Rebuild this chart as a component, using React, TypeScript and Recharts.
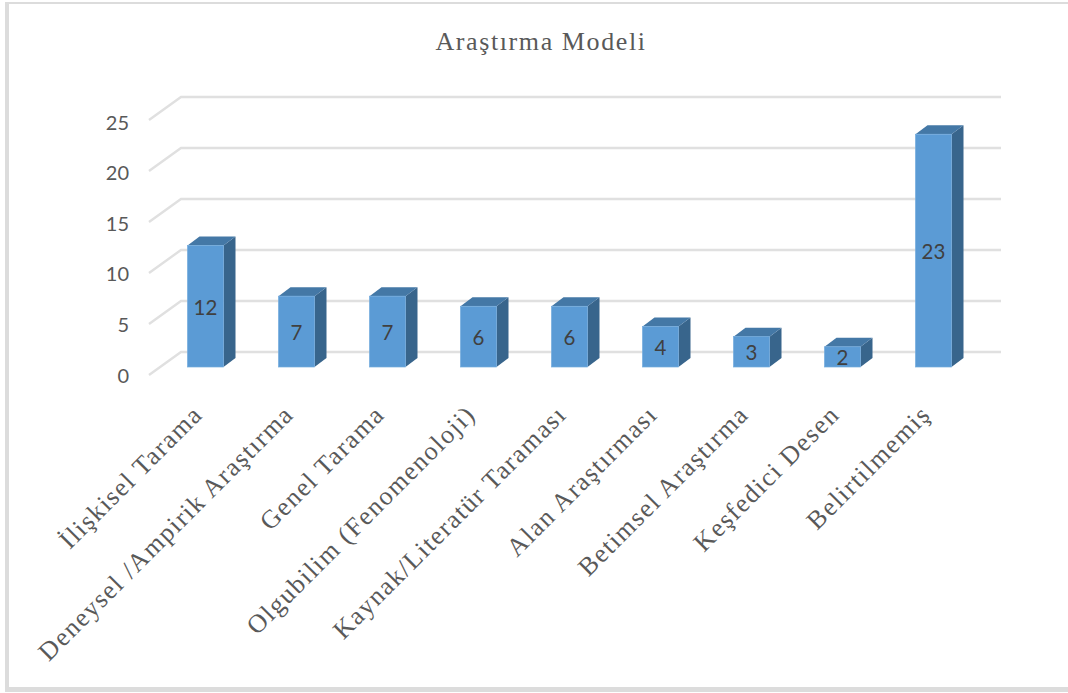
import { BarChart, Bar, XAxis, YAxis, CartesianGrid, LabelList } from "recharts";

const categories = [
  "İlişkisel Tarama",
  "Deneysel /Ampirik Araştırma",
  "Genel Tarama",
  "Olgubilim (Fenomenoloji)",
  "Kaynak/Literatür Taraması",
  "Alan Araştırması",
  "Betimsel Araştırma",
  "Keşfedici Desen",
  "Belirtilmemiş",
];
const counts = [12, 7, 7, 6, 6, 4, 3, 2, 23];
const yTicks = [0, 5, 10, 15, 20, 25];
const title = "Araştırma Modeli";

const data = categories.map((name, i) => ({ name, count: counts[i] }));

const SERIF = "'Liberation Serif', serif";
const BASE_Y = 367;

// bars are extruded up and to the right, like the old office 3d column look
function Bar3D({ x, y, width, height }: any) {
  const dx = 12;
  const dy = 9;
  return (
    <g>
      <polygon points={`${x + width},${y} ${x + width + dx},${y - dy} ${x + width + dx},${y + height - dy} ${x + width},${y + height}`} fill="#38658C" />
      <polygon points={`${x},${y} ${x + dx},${y - dy} ${x + width + dx},${y - dy} ${x + width},${y}`} fill="#4478A6" />
      <rect x={x} y={y} width={width} height={height} fill="#5B9BD5" stroke="#74ABDD" strokeWidth={0.7} />
    </g>
  );
}

// grid line runs along the back wall, then slants down to the front left
function GridLine({ y1 }: any) {
  const rise = (BASE_Y - y1) * 1.008; // wall is a touch taller than the bars
  const back = BASE_Y - 15 - rise;
  const front = BASE_Y + 8 - rise;
  return <polyline points={`149,${front} 181,${back} 1001,${back}`} fill="none" stroke="#E0E0E0" strokeWidth={2.4} />;
}

function ValueTick({ y, payload }: any) {
  return (
    <text x={129} y={y + 15.5} textAnchor="end" fontFamily="Lato" fontSize={20} fill="#595959">
      {payload.value}
    </text>
  );
}

function CategoryTick({ x, y, payload }: any) {
  return (
    <text
      transform={`translate(${x - 1} ${y + 41}) rotate(-45)`}
      textAnchor="end"
      fontFamily={SERIF}
      fontSize={26}
      letterSpacing={1.5}
      fill="#595959"
    >
      {payload.value}
    </text>
  );
}

export default function App() {
  return (
    <div style={{ position: "absolute", left: 0, top: 0, width: 1068, height: 693, background: "#fff" }}>
      <div
        style={{
          position: "absolute",
          left: 5,
          top: 2,
          width: 1063,
          height: 690,
          boxSizing: "border-box",
          borderLeft: "4px solid #DCDCDC",
          borderTop: "2px solid #DCDCDC",
          borderBottom: "5px solid #DCDCDC",
        }}
      />
      <BarChart
        width={1068}
        height={693}
        data={data}
        margin={{ top: 114, right: 89.5, bottom: 0, left: 0 }}
        style={{ position: "absolute", left: 0, top: 0 }}
      >
        <text x={541} y={50} textAnchor="middle" fontFamily={SERIF} fontSize={26} letterSpacing={1.6} fill="#595959">
          {title}
        </text>
        <CartesianGrid vertical={false} horizontal={GridLine} />
        <XAxis dataKey="name" interval={0} height={326} axisLine={false} tickLine={false} tick={CategoryTick} />
        <YAxis width={159.5} domain={[0, 25]} ticks={yTicks} axisLine={false} tickLine={false} tick={ValueTick} />
        <Bar dataKey="count" barSize={36} shape={Bar3D} isAnimationActive={false}>
          <LabelList dataKey="count" position="center" dy={1} fontFamily="Lato" fontSize={20.5} fill="#404040" />
        </Bar>
      </BarChart>
    </div>
  );
}
